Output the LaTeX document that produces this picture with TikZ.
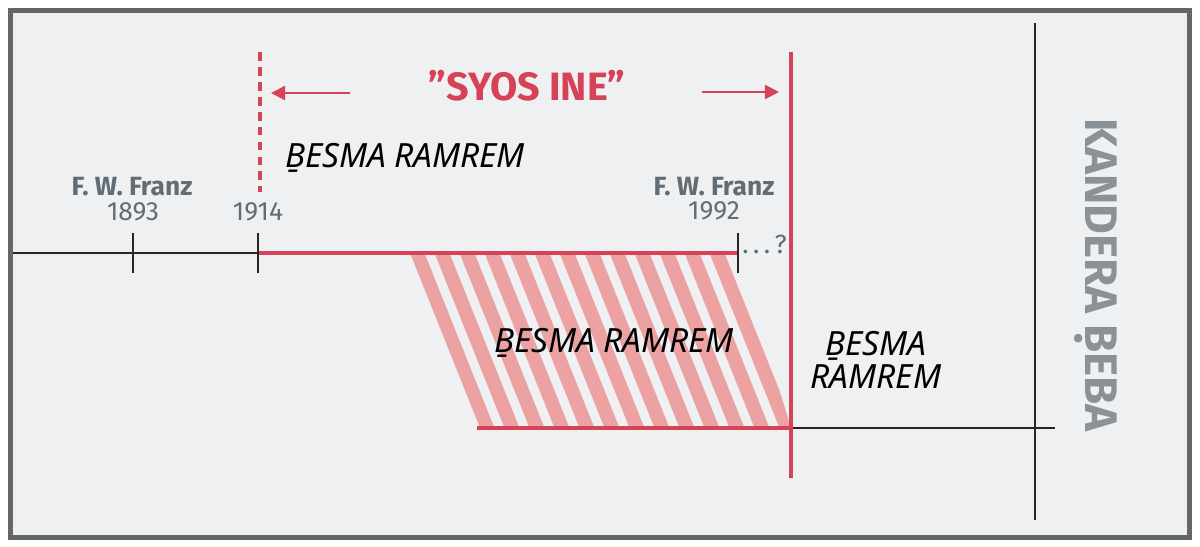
\documentclass[tikz,border=0pt]{standalone}
\usepackage{fontspec}
\setmainfont{Fira Sans}
\newfontfamily\erafont{Noto Sans}
\usetikzlibrary{arrows.meta}
\definecolor{syred}{RGB}{214,66,86}
\definecolor{stripered}{RGB}{236,162,162}
\definecolor{framegray}{RGB}{98,104,106}
\definecolor{paper}{RGB}{239,240,242}
\definecolor{labelgray}{RGB}{98,108,116}
\definecolor{titlegray}{RGB}{138,146,152}
\tikzset{
  axis/.style={line width=1.4pt, black!85},
  redaxis/.style={line width=2.3pt, syred},
  tickmark/.style={line width=1.3pt, black!85},
  namelab/.style={text=labelgray, font=\fontsize{15}{16}\selectfont\bfseries},
  yearlab/.style={text=labelgray, font=\fontsize{15}{16}\selectfont},
  eralab/.style={font=\erafont\fontsize{19}{18.7}\selectfont\itshape, align=center},
}
\begin{document}
\begin{tikzpicture}[x=0.02cm, y=-0.02cm]
    \useasboundingbox (0,0) rectangle (1200,547);
    \draw[framegray, line width=2.8pt, fill=paper] (10.5,10.5) rectangle (1189.5,537.5);
    % hatched band
    \begin{scope}
      \clip (410,253) -- (738,253) -- (791,428) -- (480,428) -- cycle;
      \foreach \i in {0,...,12}
        \draw[stripered, line width=7.9pt] (409+25*\i,233) -- ++(88,220);
    \end{scope}
    % named points
    \coordinate (left) at (13,253);
    \coordinate (t1893) at (133,253);
    \coordinate (t1914) at (258,253);
    \coordinate (t1992) at (738,253);
    \coordinate (hatchbot) at (477,428);
    \coordinate (endbot) at (791,428);
    \coordinate (farbot) at (1055,428);
    \coordinate (endtop) at (791,52);
    \coordinate (endlow) at (791,478);
    \coordinate (dashtop) at (260,52);
    \coordinate (dashlow) at (260,192);
    \coordinate (kingtop) at (1035,23);
    \coordinate (kinglow) at (1035,520);
    % time lines
    \draw[axis] (left) -- (t1914);
    \draw[redaxis] (t1914) -- (t1992);
    \draw[redaxis] (hatchbot) -- (endbot);
    \draw[axis] (endbot) -- (farbot);
    \draw[axis] (kingtop) -- (kinglow);
    \draw[redaxis] (endtop) -- (endlow);
    \draw[syred, line width=2.8pt, dash pattern=on 5pt off 3.5pt] (dashtop) -- (dashlow);
    \foreach \t in {t1893,t1914,t1992}
      \draw[tickmark] (\t) ++(0,-20) -- ++(0,40);
    % labels
    \node[namelab] (n1893) at (132,187) {F. W. Franz};
    \node[yearlab] (y1893) at (133,212) {1893};
    \node[yearlab] (y1914) at (258,212) {1914};
    \node[namelab] (n1992) at (714,187) {F. W. Franz};
    \node[yearlab] (y1992) at (714,211) {1992};
    \node[yearlab, anchor=west, inner sep=0pt] (q1992) at (742,244) {.\,.\,.\,?};
    \node[text=syred, font=\fontsize{22.5}{24}\selectfont\bfseries] (syos) at (527,86) {”SYOS INE”};
    \coordinate (arrLfrom) at (350,93);
    \coordinate (arrLto) at (271,93);
    \coordinate (arrRfrom) at (702,92);
    \coordinate (arrRto) at (779,92);
    \draw[syred, line width=1.2pt, -{Triangle[length=8pt,width=8pt]}] (arrLfrom) -- (arrLto);
    \draw[syred, line width=1.2pt, -{Triangle[length=8pt,width=8pt]}] (arrRfrom) -- (arrRto);
    \node[eralab] (era1) at (405,158) {ḆESMA RAMREM};
    \node[eralab] (era2) at (614,343) {ḆESMA RAMREM};
    \node[eralab] (era3) at (876,360) {ḆESMA\\RAMREM};
    \node[text=titlegray, font=\fontsize{26}{28}\selectfont\bfseries, rotate=-90] (kingdom) at (1096,275) {KANDERA ḄEBA};
\end{tikzpicture}
\end{document}
